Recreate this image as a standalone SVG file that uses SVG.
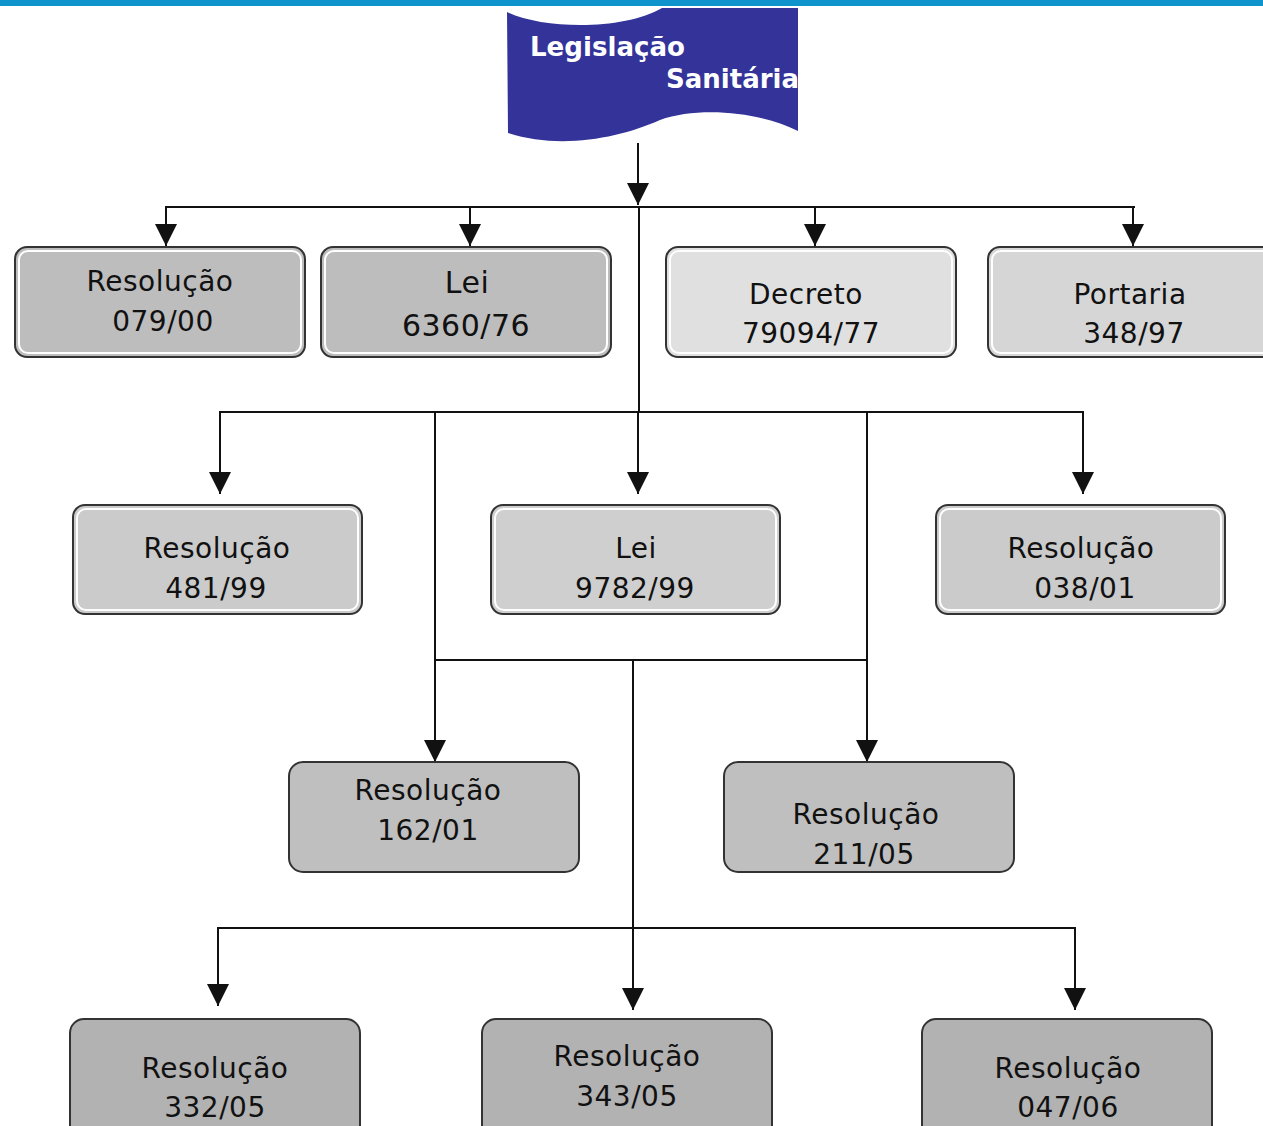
<svg xmlns="http://www.w3.org/2000/svg" width="1263" height="1126" viewBox="0 0 1263 1126">
<style>
.t{font-family:"DejaVu Sans","Liberation Sans",sans-serif;font-size:28px;fill:#111;text-anchor:middle;letter-spacing:0.5px}
.b{stroke:#333;stroke-width:2}
.in{fill:none;stroke:#fff;stroke-width:2}
.c{stroke:#111;stroke-width:2;fill:none}
.title{font-family:"DejaVu Sans","Liberation Sans",sans-serif;font-size:27px;font-weight:bold;fill:#fff}
</style>
<defs>
<marker id="ah" markerUnits="userSpaceOnUse" markerWidth="22" markerHeight="22" viewBox="0 0 22 22" refX="22" refY="11" orient="auto">
<path d="M0,0 L22,11 L0,22 Z" fill="#111"/>
</marker>
</defs>
<rect width="1263" height="1126" fill="#fff"/>
<rect x="0" y="0" width="1263" height="6" fill="#0e93cc"/>
<g id="title">
<path d="M507,12 C545,30 625,30 662,8 L798,8 L798,131 C760,112 700,106 660,120 C620,138 560,150 508,133 Z" fill="#333399"/>
<text class="title" x="530" y="56" textLength="155" lengthAdjust="spacingAndGlyphs">Legislação</text>
<text class="title" x="666" y="88" textLength="133" lengthAdjust="spacingAndGlyphs">Sanitária</text>
</g>
<g id="connectors">
<line class="c" x1="638" y1="143" x2="638" y2="205" marker-end="url(#ah)"/>
<line class="c" x1="165" y1="207" x2="1135" y2="207"/>
<line class="c" x1="166" y1="207" x2="166" y2="246" marker-end="url(#ah)"/>
<line class="c" x1="470" y1="207" x2="470" y2="246" marker-end="url(#ah)"/>
<line class="c" x1="815" y1="207" x2="815" y2="246" marker-end="url(#ah)"/>
<line class="c" x1="1133" y1="207" x2="1133" y2="246" marker-end="url(#ah)"/>
<line class="c" x1="639" y1="207" x2="639" y2="412"/>
<line class="c" x1="219" y1="412" x2="1084" y2="412"/>
<line class="c" x1="220" y1="412" x2="220" y2="494" marker-end="url(#ah)"/>
<line class="c" x1="638" y1="412" x2="638" y2="494" marker-end="url(#ah)"/>
<line class="c" x1="1083" y1="412" x2="1083" y2="494" marker-end="url(#ah)"/>
<line class="c" x1="435" y1="412" x2="435" y2="762" marker-end="url(#ah)"/>
<line class="c" x1="867" y1="412" x2="867" y2="762" marker-end="url(#ah)"/>
<line class="c" x1="435" y1="660" x2="867" y2="660"/>
<line class="c" x1="633" y1="660" x2="633" y2="1010" marker-end="url(#ah)"/>
<line class="c" x1="217" y1="928" x2="1076" y2="928"/>
<line class="c" x1="218" y1="928" x2="218" y2="1006" marker-end="url(#ah)"/>
<line class="c" x1="1075" y1="928" x2="1075" y2="1010" marker-end="url(#ah)"/>
</g>
<g id="n1">
<rect class="b" x="15" y="247" width="290" height="110" rx="12" fill="#bdbdbd"/>
<rect class="in" x="19" y="251" width="282" height="102" rx="9"/>
<text class="t" x="160" y="291">Resolução</text><text class="t" x="163" y="331">079/00</text>
</g>
<g id="n2">
<rect class="b" x="321" y="247" width="290" height="110" rx="12" fill="#bdbdbd"/>
<rect class="in" x="325" y="251" width="282" height="102" rx="9"/>
<text class="t" x="467" y="293" style="font-size:30px">Lei</text><text class="t" x="466" y="336" style="font-size:30px">6360/76</text>
</g>
<g id="n3">
<rect class="b" x="666" y="247" width="290" height="110" rx="12" fill="#e0e0e0"/>
<rect class="in" x="670" y="251" width="282" height="102" rx="9"/>
<text class="t" x="806" y="304">Decreto</text><text class="t" x="811" y="343">79094/77</text>
</g>
<g id="n4">
<rect class="b" x="988" y="247" width="290" height="110" rx="12" fill="#d6d6d6"/>
<rect class="in" x="992" y="251" width="282" height="102" rx="9"/>
<text class="t" x="1130" y="304">Portaria</text><text class="t" x="1134" y="343">348/97</text>
</g>
<g id="n5">
<rect class="b" x="73" y="505" width="289" height="109" rx="12" fill="#cbcbcb"/>
<rect class="in" x="77" y="509" width="281" height="101" rx="9"/>
<text class="t" x="217" y="558">Resolução</text><text class="t" x="216" y="598">481/99</text>
</g>
<g id="n6">
<rect class="b" x="491" y="505" width="289" height="109" rx="12" fill="#cfcfcf"/>
<rect class="in" x="495" y="509" width="281" height="101" rx="9"/>
<text class="t" x="636" y="558">Lei</text><text class="t" x="635" y="598">9782/99</text>
</g>
<g id="n7">
<rect class="b" x="936" y="505" width="289" height="109" rx="12" fill="#cbcbcb"/>
<rect class="in" x="940" y="509" width="281" height="101" rx="9"/>
<text class="t" x="1081" y="558">Resolução</text><text class="t" x="1085" y="598">038/01</text>
</g>
<g id="n8">
<rect class="b" x="289" y="762" width="290" height="110" rx="14" fill="#bfbfbf"/>
<text class="t" x="428" y="800">Resolução</text><text class="t" x="428" y="840">162/01</text>
</g>
<g id="n9">
<rect class="b" x="724" y="762" width="290" height="110" rx="14" fill="#bfbfbf"/>
<text class="t" x="866" y="824">Resolução</text><text class="t" x="864" y="864">211/05</text>
</g>
<g id="n10">
<rect class="b" x="70" y="1019" width="290" height="120" rx="14" fill="#b2b2b2"/>
<text class="t" x="215" y="1078">Resolução</text><text class="t" x="215" y="1117">332/05</text>
</g>
<g id="n11">
<rect class="b" x="482" y="1019" width="290" height="120" rx="14" fill="#b2b2b2"/>
<text class="t" x="627" y="1066">Resolução</text><text class="t" x="627" y="1106">343/05</text>
</g>
<g id="n12">
<rect class="b" x="922" y="1019" width="290" height="120" rx="14" fill="#b2b2b2"/>
<text class="t" x="1068" y="1078">Resolução</text><text class="t" x="1068" y="1117">047/06</text>
</g>
</svg>
